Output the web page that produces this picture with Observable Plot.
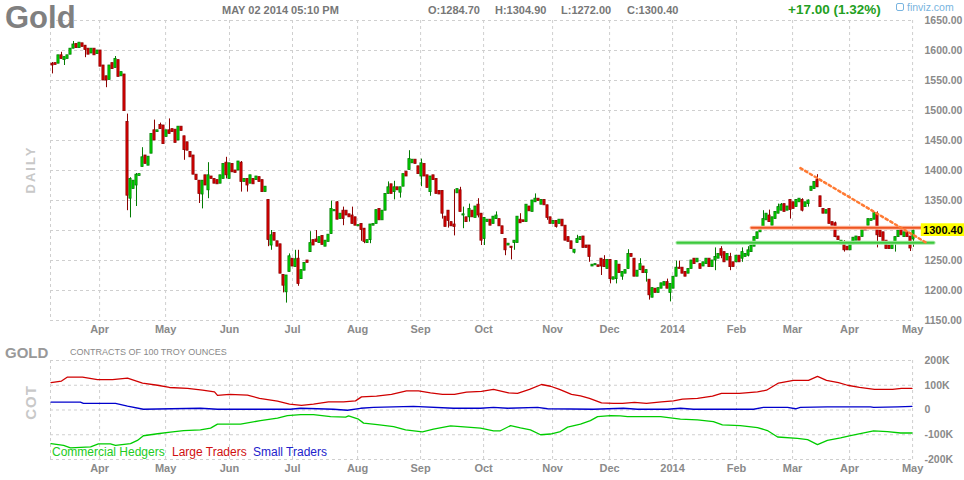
<!DOCTYPE html>
<html><head><meta charset="utf-8">
<script src="https://cdn.jsdelivr.net/npm/d3@7"></script>
<script src="https://cdn.jsdelivr.net/npm/@observablehq/plot@0.6"></script>
<style>
body{margin:0;background:#fff;font-family:"Liberation Sans",Arial,sans-serif;}
#wrap{position:relative;width:964px;height:480px;overflow:hidden;background:#fff;}
#wrap svg{position:absolute;left:0;}
.t{position:absolute;white-space:nowrap;line-height:1;}
.hd{font-size:11px;font-weight:bold;color:#777;top:5px;}
.rot{transform:rotate(-90deg);transform-origin:center center;font-weight:bold;color:#c8c8c8;}
</style></head>
<body><div id="wrap"></div>
<script>
// ---------- price data (daily candles, trading-day index 0..287, Mar 2013 - May 02 2014)
const opens = [
1578,1579,1578,1592,1584,1586,1593,1603,1611,1604,1612,1608,1603,1595,1603,1594,1600,1575,1557,1551,
1579,1571,1584,1557,1560,1481,1353,1369,1375,1391,1406,1425,1408,1428,1467,1464,1476,1475,1456,1467,
1469,1468,1450,1473,1457,1447,1431,1425,1393,1383,1360,1392,1367,1390,1386,1384,1378,1386,1413,1386,
1411,1400,1400,1413,1381,1386,1378,1386,
1384,1389,1384,1364,1351,1275,1296,1282,1277,1226,1197,1231,1253,1239,1253,1219,1233,1250,1264,1284,
1285,1279,1291,1273,1281,1294,1332,1347,1319,1333,1333,1327,1325,1322,1307,1311,1303,1279,1284,1308,
1311,1336,1317,1333,1361,1377,1364,1372,1363,1373,1398,1401,1412,1418,1407,1390,1411,1392,1364,1392,
1386,1366,1366,1323,1333,1314,1310,1362,1367,1325,
1322,1322,1333,1321,1343,1328,1286,1314,1318,1311,1319,1319,1307,1286,1275,1273,1279,1279,1318,1317,
1314,1340,1331,1347,1353,1343,1351,1342,1322,1311,1316,1311,1318,1308,1289,1282,1263,1279,1284,1290,
1275,1275,1240,1242,1242,1253,1251,1236,1251,1218,1219,1243,1223,1228,1236,1261,1253,1223,1234,1240,
1229,1218,1188,1203,1196,1203,1208,1214,1196,1203,1223,1238,1238,1231,
1228,1236,1253,1247,1244,1240,1244,1253,1239,1250,1253,1269,1264,1250,1256,1247,1247,1258,1253,1256,
1258,1264,1273,1286,1297,1306,1317,1325,1308,1319,1328,1333,1344,1333,1351,1347,1339,1347,1351,1339,
1344,1366,1369,1384,1357,1336,1328,1336,1314,1312,1290,1277,1279,1273,1267,1277,1283,1289,1289,1303,
1308,1316,1318,1327,1300,1297,1283,1275,1269,1278,1289,1303,1289,1297,1290,1285];
const closes = [
1575,1576,1592,1586,1589,1592,1603,1610,1604,1613,1606,1601,1593,1603,1592,1600,1573,1550,1550,1575,
1569,1586,1556,1564,1499,1358,1386,1383,1393,1394,1422,1411,1423,1461,1450,1467,1469,1444,1467,1461,
1464,1446,1473,1466,1434,1433,1422,1393,1384,1361,1383,1375,1392,1386,1378,1377,1392,1411,1392,1412,
1397,1396,1415,1381,1386,1375,1392,1377,
1390,1381,1364,1373,1284,1292,1283,1273,1228,1208,1225,1257,1240,1252,1211,1234,1246,1246,1279,1275,
1281,1289,1276,1283,1293,1336,1334,1318,1328,1319,1325,1322,1311,1308,1309,1301,1281,1284,1310,1311,
1334,1317,1333,1361,1372,1361,1372,1367,1372,1394,1390,1419,1418,1411,1394,1412,1390,1371,1390,1384,
1361,1360,1328,1306,1316,1307,1306,1369,1331,1327,
1314,1336,1322,1340,1325,1283,1321,1318,1308,1323,1325,1307,1294,1267,1278,1271,1283,1323,1312,1314,
1343,1332,1350,1353,1349,1351,1342,1321,1311,1316,1306,1318,1307,1283,1281,1269,1268,1286,1289,1271,
1271,1256,1243,1244,1239,1240,1239,1251,1219,1222,1249,1229,1231,1234,1261,1256,1223,1233,1244,1229,
1234,1192,1204,1196,1204,1212,1214,1203,1211,1223,1238,1236,1228,1223,
1236,1250,1244,1253,1236,1247,1253,1239,1250,1256,1261,1258,1247,1261,1239,1239,1258,1247,1264,1261,
1267,1275,1289,1297,1306,1319,1328,1314,1322,1331,1339,1343,1331,1340,1334,1336,1351,1353,1333,1347,
1350,1373,1381,1372,1339,1328,1334,1311,1308,1289,1284,1283,1267,1267,1278,1288,1290,1283,1306,1300,
1319,1319,1329,1292,1289,1281,1269,1269,1278,1289,1300,1292,1297,1289,1270,1300];
// wicks: [index, high, low]
const wicks = [[0,1580,1561],[3,1597,1586],[4,1589,1575],[7,1615,1603],[11,1608,1588],[18,1557,1538],[21,1590,1571],
[25,1494,1333],[26,1388,1321],[28,1395,1340],[30,1438,1406],[34,1484,1450],[36,1479,1469],[39,1486,1461],[44,1457,1417],
[49,1383,1345],[50,1383,1336],[52,1413,1353],[58,1422,1386],[63,1415,1364],[65,1386,1364],
[72,1351,1273],[73,1300,1267],[77,1226,1196],[78,1225,1179],[79,1261,1231],[81,1267,1239],[82,1267,1207],
[86,1298,1264],[88,1300,1281],[93,1349,1294],[95,1348,1318],[97,1339,1308],[100,1339,1311],[103,1310,1282],
[104,1303,1278],[106,1284,1278],[112,1381,1361],[114,1382,1351],[116,1372,1354],[119,1433,1401],[123,1419,1373],
[126,1390,1357],[130,1366,1319],[132,1333,1304],[134,1368,1291],[136,1372,1331],[137,1339,1303],
[139,1344,1314],[142,1353,1321],[143,1328,1275],[144,1321,1275],[148,1331,1319],[151,1286,1258],[153,1273,1251],
[154,1283,1267],[156,1328,1312],[161,1361,1347],[165,1342,1317],[168,1316,1304],[174,1268,1261],[175,1292,1279],
[179,1275,1247],[183,1242,1225],[184,1258,1239],[186,1251,1211],[188,1249,1211],[190,1231,1217],[192,1268,1236],
[196,1253,1233],[198,1234,1214],[199,1218,1184],[200,1204,1188],[205,1219,1203],[206,1211,1181],[208,1249,1223],[209,1249,1236],
[221,1271,1233],[223,1273,1253],[226,1262,1233],[230,1271,1247],[232,1273,1256],[237,1333,1306],[239,1334,1314],
[242,1344,1328],[243,1345,1333],[246,1340,1319],[250,1353,1331],[252,1351,1339],[255,1393,1372],[261,1314,1288],
[264,1283,1264],[275,1331,1271],[281,1289,1264],[286,1290,1265],[287,1305,1272]];

// month ticks (trading-day index) and labels
const monthIdx = [15.7,37.7,59,80,101.7,122.7,143.7,166.7,185.7,206.7,228,246.7,265.7,286.7];
const monthLabels = ["Apr","May","Jun","Jul","Aug","Sep","Oct","Nov","Dec","2014","Feb","Mar","Apr","May"];
const priceTicks = [1150,1200,1250,1300,1350,1400,1450,1500,1550,1600,1650];
const priceLabels = [1150,1200,1250,1350,1400,1450,1500,1550,1600,1650];
const lastPrice = 1300.40;

// analyst lines
const supportLine = [[208.3,1279.5],[293.7,1279.5]];
const resistLine = [[233,1304.5],[290.7,1304.5]];
const trendLine = [[249.3,1404],[291.8,1278]];

// COT (thousands of contracts): [index, value]
const largeTraders = [[-0.5,111],[3,117],[5,133],[10,133],[15,123],[20,123],[25,129],[30,109],[35,100],[39,91],
[45,87],[50,80],[54,73],[55,59],[59,63],[65,60],[69,47],[75,36],[79,24],[83,19],[87,24],[92,33],[97,33],[101,37],
[103,53],[108,56],[113,63],[118,77],[122,77],[126,69],[130,63],[134,63],[138,72],[143,75],[147,83],[152,69],
[155,67],[159,83],[163,103],[166,96],[169,83],[173,63],[176,57],[179,47],[183,29],[187,27],[190,27],[194,31],
[198,27],[203,33],[207,37],[210,44],[215,47],[220,56],[223,67],[229,67],[235,73],[238,80],[242,109],[247,120],
[252,120],[255,136],[258,120],[262,111],[265,100],[269,91],[274,83],[280,83],[283,87],[286.5,87]];
const smallTraders = [[-0.5,32],[9.3,32],[10.3,27],[21,27],[25,16],[30.3,3],[49.3,7],[55,3],[79.3,3],[82.7,7],
[93.7,3],[98.3,-1],[102.7,7],[107,11],[120.3,15],[133.7,7],[142.7,7],[147,11],[151.7,7],[161.7,11],[165,5],
[180.3,3],[190.3,7],[195,3],[205,3],[209.3,7],[213.7,3],[233.7,3],[237,11],[245,11],[247.7,5],[249.3,11],
[258.3,13],[272.7,13],[273.7,11],[281.7,13],[286.5,15]];
const commercialHedgers = [[-0.5,-136],[3.7,-143],[6,-153],[12.7,-149],[15.3,-137],[19.3,-137],[21,-143],[26,-136],
[28.3,-123],[30.3,-104],[35,-96],[39.3,-89],[43.7,-83],[49.3,-80],[52.7,-73],[55,-57],[62.7,-57],[69.3,-43],
[75,-33],[78.3,-23],[82.7,-19],[87,-19],[92.7,-27],[97.7,-29],[98.7,-24],[102,-37],[103.7,-53],[108.3,-59],
[113.7,-67],[117.7,-80],[123.3,-88],[127,-77],[132.7,-64],[138.3,-69],[142.7,-73],[147,-84],[149.3,-84],
[152.7,-63],[156,-72],[159.3,-80],[162.7,-100],[166,-97],[169.3,-87],[171.7,-69],[176,-57],[179.3,-43],
[181.7,-27],[186,-23],[189.3,-24],[191.7,-27],[202.7,-27],[206,-32],[209.3,-37],[215,-40],[220.3,-47],
[223.3,-60],[229.3,-63],[235,-71],[238.3,-83],[241.7,-109],[248.3,-115],[251.7,-120],[255,-140],[258.3,-123],
[262.7,-113],[266,-104],[273.7,-84],[278.3,-87],[282.7,-93],[286.5,-93]];
const cotTicks = [-200,-100,0,100,200];

// ---------- build
const xDomain = [-2/3, 286.67];
const grid = {stroke:"#cfcfcf", strokeDasharray:"3,3", strokeWidth:1};
const wickMap = new Map(wicks.map(w => [w[0], w]));
const candles = closes.map((c, i) => {
  const o = opens[i], w = wickMap.get(i);
  return {i, o, c, up: c >= o,
    hi: w ? Math.max(w[1], o, c) : Math.max(o, c),
    lo: w ? Math.min(w[2], o, c) : Math.min(o, c), hasWick: !!w};
});
const fmtMonth = d => monthLabels[monthIdx.indexOf(d)];
const font = {fontFamily:"'Liberation Sans', Arial, sans-serif", color:"#888", background:"transparent", overflow:"visible"};

const price = Plot.plot({
  width:964, height:340, marginLeft:50, marginRight:52, marginTop:20, marginBottom:20,
  style: font,
  x:{domain:xDomain, axis:null, label:null},
  y:{domain:[1150,1650], axis:null, label:null},
  color:{type:"identity"},
  marks:[
    Plot.ruleY(priceTicks, grid),
    Plot.ruleX([xDomain[0], ...monthIdx], grid),
    Plot.ruleX(candles.filter(d => d.hasWick), {x:"i", y1:"lo", y2:"hi", stroke:d => d.up ? "#007a00" : "#8b0000", strokeWidth:1}),
    Plot.rect(candles, {x1:d => d.i - 0.36, x2:d => d.i + 0.36, y1:d => Math.min(d.o, d.c), y2:d => Math.max(d.o, d.c),
      fill:d => d.up ? "#00dd00" : "#e00000", stroke:d => d.up ? "#007a00" : "#8b0000", strokeWidth:0.8}),
    Plot.line(supportLine, {x:d => d[0], y:d => d[1], stroke:"#a8e8a8", strokeWidth:4}),
    Plot.line(supportLine, {x:d => d[0], y:d => d[1], stroke:"#3cc83c", strokeWidth:2}),
    Plot.line(resistLine, {x:d => d[0], y:d => d[1], stroke:"#ffc0a8", strokeWidth:4}),
    Plot.line(resistLine, {x:d => d[0], y:d => d[1], stroke:"#ee5522", strokeWidth:2}),
    Plot.line(trendLine, {x:d => d[0], y:d => d[1], stroke:"#ff7a33", strokeWidth:2.5, strokeDasharray:"2.5,3"}),
    Plot.axisX(monthIdx, {label:null, tickSize:0, tickPadding:5, tickFormat:fmtMonth, fontWeight:"bold", fontSize:11, color:"#8a8a8a"}),
    Plot.axisY(priceLabels, {label:null, anchor:"right", tickSize:0, tickPadding:12, tickFormat:d => d.toFixed(2), fontWeight:"bold", fontSize:10.5, color:"#8a8a8a"}),
    Plot.rect([lastPrice], {x1:289.6, x2:306, y1:d => d - 10.4, y2:d => d + 10.8, fill:"#ffff00"}),
    Plot.text([lastPrice], {x:290.2, y:d => d, text:d => d.toFixed(2), textAnchor:"start", fill:"#000", fontWeight:"bold", fontSize:11})
  ]
});
price.style.top = "0px";

const cot = Plot.plot({
  width:964, height:140, marginLeft:50, marginRight:52, marginTop:20, marginBottom:21,
  style: font,
  x:{domain:xDomain, axis:null, label:null},
  y:{domain:[-200,200], axis:null, label:null},
  marks:[
    Plot.ruleY(cotTicks, grid),
    Plot.ruleX([xDomain[0], ...monthIdx], grid),
    Plot.line(largeTraders, {x:d => d[0], y:d => d[1], stroke:"#d00000", strokeWidth:1.3}),
    Plot.line(smallTraders, {x:d => d[0], y:d => d[1], stroke:"#0000cc", strokeWidth:1.3}),
    Plot.line(commercialHedgers, {x:d => d[0], y:d => d[1], stroke:"#00cc00", strokeWidth:1.3}),
    Plot.axisX(monthIdx, {label:null, tickSize:0, tickPadding:5, tickFormat:fmtMonth, fontWeight:"bold", fontSize:11, color:"#8a8a8a"}),
    Plot.axisY(cotTicks, {label:null, anchor:"right", tickSize:0, tickPadding:12, tickFormat:d => d === 0 ? "0" : d + "K", fontWeight:"bold", fontSize:10.5, color:"#8a8a8a"})
  ]
});
cot.style.top = "340px";

const wrap = document.getElementById("wrap");
wrap.appendChild(price);
wrap.appendChild(cot);

const html = `
<div class="t" style="left:5px;top:2px;font-size:31px;font-weight:bold;color:#808080;">Gold</div>
<div class="t hd" style="left:222px;">MAY 02 2014 05:10 PM</div>
<div class="t hd" style="left:428px;">O:1284.70</div>
<div class="t hd" style="left:495px;">H:1304.90</div>
<div class="t hd" style="left:561px;">L:1272.00</div>
<div class="t hd" style="left:627px;">C:1300.40</div>
<div class="t" style="left:788px;top:3px;font-size:13.5px;font-weight:bold;color:#22a022;">+17.00 (1.32%)</div>
<div class="t" style="left:896px;top:2px;font-size:10.5px;color:#78b4e0;"><span style="display:inline-block;width:6px;height:6px;border:1px solid #78b4e0;border-radius:2px;margin-right:3px;vertical-align:0px;"></span>finviz.com</div>
<div class="t rot" style="left:6px;top:163px;width:48px;text-align:center;font-size:13px;letter-spacing:2px;">DAILY</div>
<div class="t" style="left:5px;top:345px;font-size:15px;font-weight:bold;color:#999;">GOLD</div>
<div class="t" style="left:70px;top:348px;font-size:9px;color:#888;">CONTRACTS OF 100 TROY OUNCES</div>
<div class="t rot" style="left:6px;top:395px;width:48px;text-align:center;font-size:15px;letter-spacing:1px;">COT</div>
<div class="t" style="left:52px;top:446px;font-size:12px;color:#22cc22;">Commercial Hedgers</div>
<div class="t" style="left:172px;top:446px;font-size:12px;color:#d01010;">Large Traders</div>
<div class="t" style="left:253px;top:446px;font-size:12px;color:#2222cc;">Small Traders</div>`;
wrap.insertAdjacentHTML("beforeend", html);
</script>
</body></html>
